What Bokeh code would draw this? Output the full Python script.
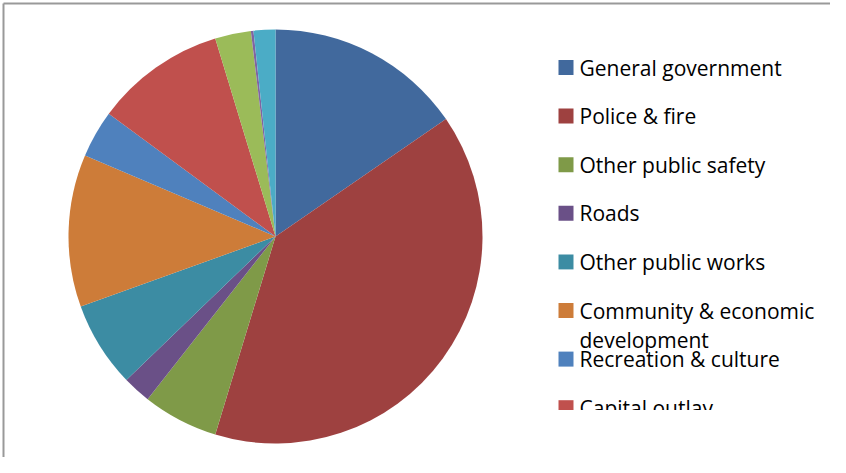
import textwrap
import numpy as np
from bokeh.plotting import figure
from bokeh.models import Range1d, ColumnDataSource
from bokeh.core.properties import value
from bokeh.embed import file_html
from bokeh.resources import INLINE

# ---- data ----
categories = [
    "General government",
    "Police & fire",
    "Other public safety",
    "Roads",
    "Other public works",
    "Community & economic development",
    "Recreation & culture",
    "Capital outlay",
    "Debt service",
    "Intergovernmental",
    "Other",
]
shares = [15.4, 39.3, 5.9, 2.2, 6.7, 11.9, 3.7, 10.2, 2.8, 0.2, 1.7]
colors = [
    "#41699D", "#9E4140", "#7F9A48", "#6A5087", "#3C8CA3", "#CD7C39",
    "#4F81BD", "#C0504D", "#9BBB59", "#8064A2", "#4BACC6",
]
legend_count = 8  # legend box only shows first eight entries (rest clipped)

W, H = 830, 457

p = figure(width=W, height=H, output_backend="svg", toolbar_location=None,
           x_range=Range1d(0, W), y_range=Range1d(0, H), min_border=0)
p.axis.visible = False
p.grid.visible = False
p.outline_line_color = None
p.background_fill_color = "white"

def sy(y):
    return H - y

# ---- pie ----
vals = np.array(shares, dtype=float)
frac = vals / vals.sum()
cum = np.concatenate([[0.0], np.cumsum(frac)])
start = np.pi / 2 - 2 * np.pi * cum[:-1]
end = np.pi / 2 - 2 * np.pi * cum[1:]
src = ColumnDataSource(dict(start=start, end=end, color=colors, cat=categories))
p.wedge(x=275, y=sy(236), radius=207, start_angle="start", end_angle="end",
        direction="clock", fill_color="color", line_color=None, source=src)

# ---- legend ----
sq_x, sq_y, sq_c = [], [], []
tx, ty, tt = [], [], []
for i in range(legend_count):
    yc = 67 + i * 48.6
    sq_x.append(565.5)
    sq_y.append(sy(yc))
    sq_c.append(colors[i])
    for k, line in enumerate(textwrap.wrap(categories[i], 20)):
        tx.append(579)
        ty.append(sy(yc + k * 29))
        tt.append(line)
p.rect(x=sq_x, y=sq_y, width=15, height=15, fill_color=sq_c, line_color=None)
p.text(x=tx, y=ty, text=tt, text_font=value("Open Sans"),
       text_font_size="21px", text_color="#000000",
       text_baseline="middle", text_align="left")

# clip the legend box bottom
p.quad(left=[535], right=[W], bottom=[0], top=[sy(409.5)],
       fill_color="white", line_color=None)

# ---- chart border (top, left) ----
p.segment(x0=[3, 3], y0=[sy(3), sy(3)], x1=[W, 3], y1=[sy(3), 0],
          line_color="#999999", line_width=2)

open("out.html", "w").write(file_html(p, INLINE))
